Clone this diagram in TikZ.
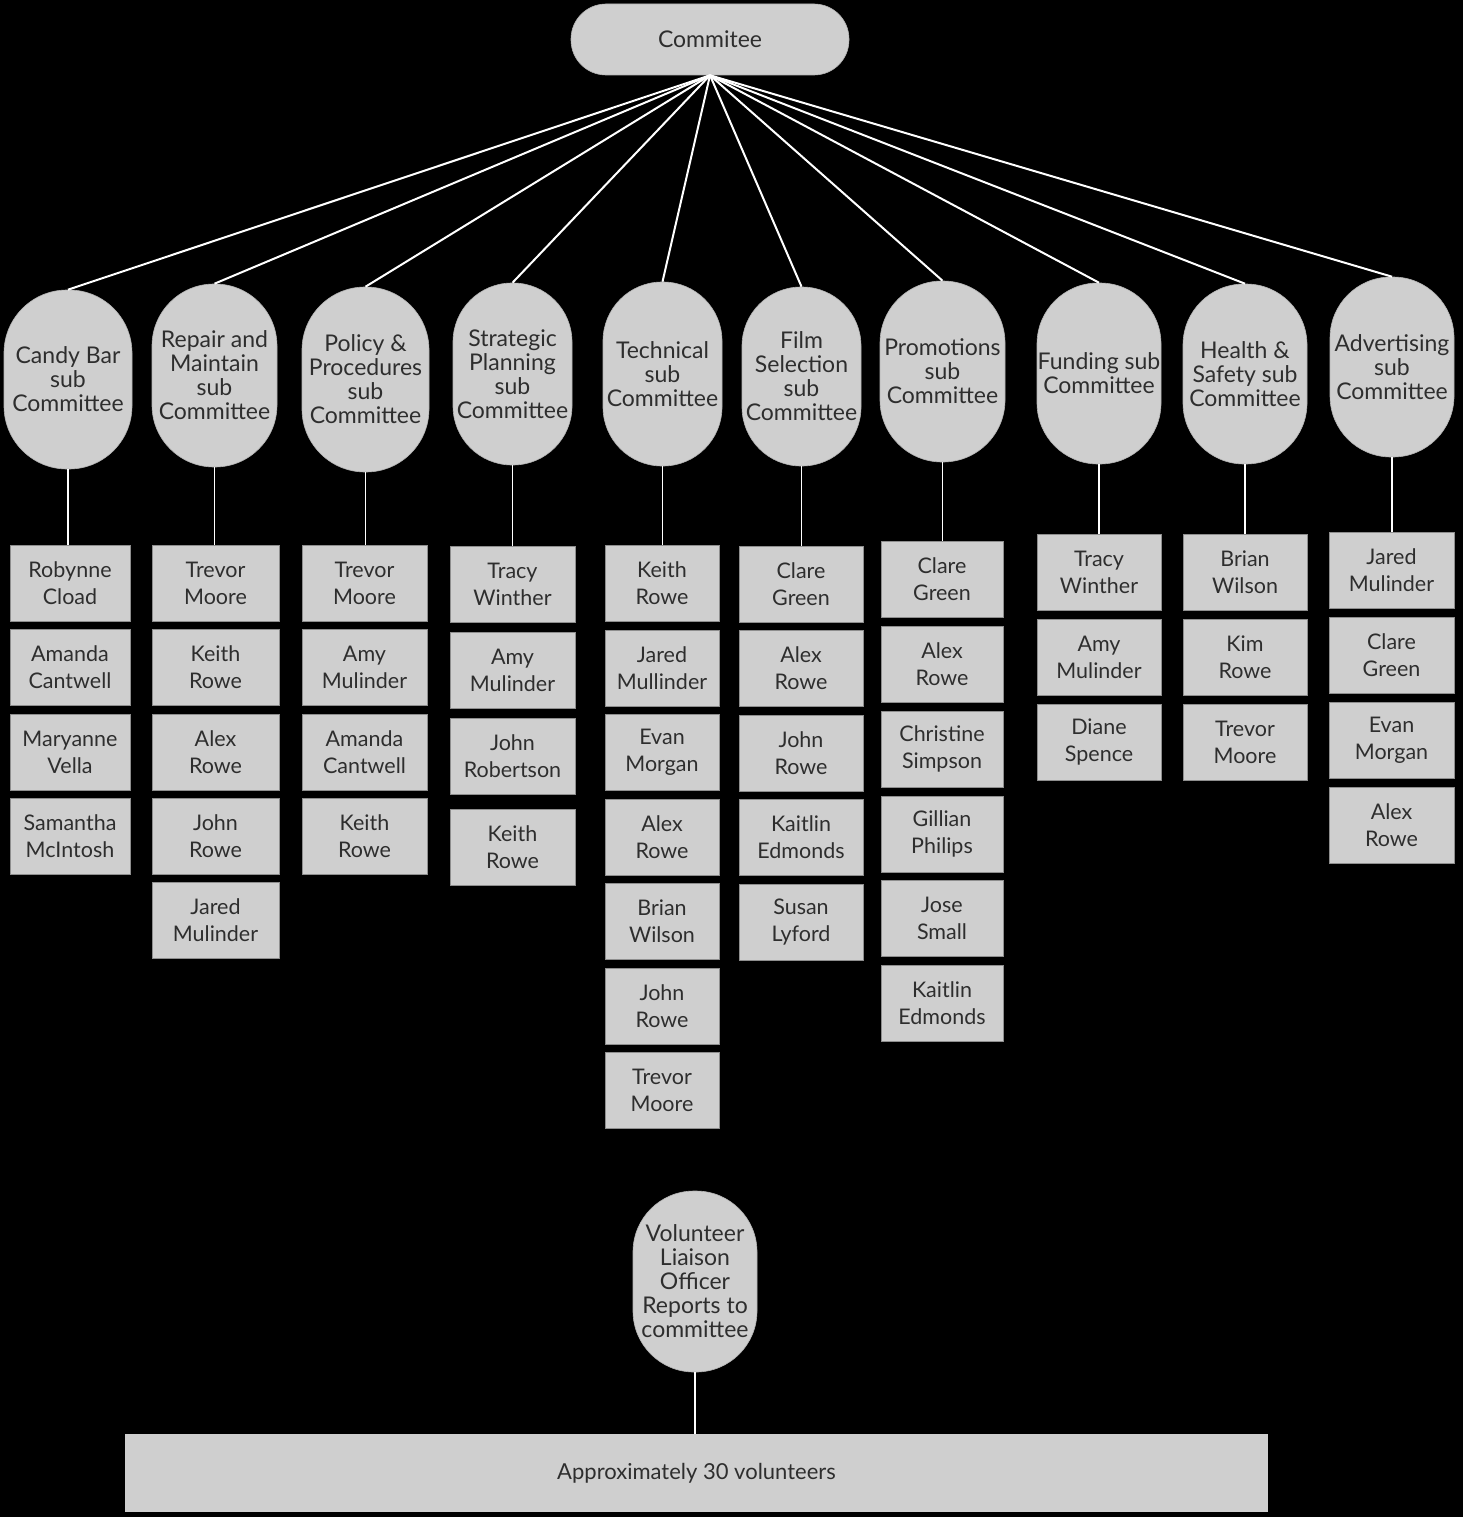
\documentclass[tikz,border=0pt]{standalone}
\usepackage{fontspec}
\setmainfont{Lato}
\definecolor{boxfill}{HTML}{CFCFCF}
\definecolor{boxline}{HTML}{8E8E8E}
\definecolor{pillline}{HTML}{B4B4B4}
\definecolor{txt}{HTML}{2E2E2E}
\begin{document}
\begin{tikzpicture}[x=1pt,y=-1pt,
  pill/.style n args={3}{fill=boxfill, draw=pillline, line width=0.6pt, text=txt,
    align=center, inner sep=0pt, minimum width=#1pt, minimum height=#2pt,
    rounded corners=#3pt, font=\fontsize{23}{24}\selectfont},
  namebox/.style={fill=boxfill, draw=boxline, line width=1pt, text=txt,
    align=center, inner sep=0pt, minimum width=#1pt, minimum height=76pt,
    font=\fontsize{21.5}{27}\selectfont},
  link/.style={draw=white, line width=2pt},
  vlink/.style={draw=white, line width=1.6pt},
]
\fill[black] (0,0) rectangle (1463,1517);
\useasboundingbox (0,0) rectangle (1463,1517);

% top
\node[pill={278}{71}{35}] (top) at (710,39.5) {Commitee};

% sub committees
\node[pill={128}{179}{63}] (s1) at (68,379.5) {Candy Bar\\sub\\Committee};
\node[pill={125}{183}{62}] (s2) at (214.5,375.5) {Repair and\\Maintain\\sub\\Committee};
\node[pill={127}{185}{63}] (s3) at (365.5,379.5) {Policy \&\\Procedures\\sub\\Committee};
\node[pill={119}{182}{59}] (s4) at (512.5,374) {Strategic\\Planning\\sub\\Committee};
\node[pill={119}{184}{59}] (s5) at (662.5,374) {Technical\\sub\\Committee};
\node[pill={119}{179}{59}] (s6) at (801.5,376.5) {Film\\Selection\\sub\\Committee};
\node[pill={125}{181}{62}] (s7) at (942.5,371.5) {Promotions\\sub\\Committee};
\node[pill={124}{181}{61}] (s8) at (1099,373.5) {Funding sub\\Committee};
\node[pill={124}{180}{61}] (s9) at (1245,374) {Health \&\\Safety sub\\Committee};
\node[pill={124}{180}{61}] (s10) at (1392,367) {Advertising\\sub\\Committee};

\foreach \i in {1,...,10} \draw[link] (top.south) -- (s\i.north);

% column 1
\node[namebox=120] (c1a) at (70,583) {Robynne\\Cload};
\node[namebox=120] (c1b) at (70,667) {Amanda\\Cantwell};
\node[namebox=120] (c1c) at (70,752) {Maryanne\\Vella};
\node[namebox=120] (c1d) at (70,836) {Samantha\\McIntosh};
% column 2
\node[namebox=127] (c2a) at (215.5,583) {Trevor\\Moore};
\node[namebox=127] (c2b) at (215.5,667) {Keith\\Rowe};
\node[namebox=127] (c2c) at (215.5,752) {Alex\\Rowe};
\node[namebox=127] (c2d) at (215.5,836) {John\\Rowe};
\node[namebox=127] (c2e) at (215.5,920) {Jared\\Mulinder};
% column 3
\node[namebox=125] (c3a) at (364.5,583) {Trevor\\Moore};
\node[namebox=125] (c3b) at (364.5,667) {Amy\\Mulinder};
\node[namebox=125] (c3c) at (364.5,752) {Amanda\\Cantwell};
\node[namebox=125] (c3d) at (364.5,836) {Keith\\Rowe};
% column 4
\node[namebox=125] (c4a) at (512.5,584) {Tracy\\Winther};
\node[namebox=125] (c4b) at (512.5,670) {Amy\\Mulinder};
\node[namebox=125] (c4c) at (512.5,756) {John\\Robertson};
\node[namebox=125] (c4d) at (512.5,847) {Keith\\Rowe};
% column 5
\node[namebox=114] (c5a) at (662,583) {Keith\\Rowe};
\node[namebox=114] (c5b) at (662,668) {Jared\\Mullinder};
\node[namebox=114] (c5c) at (662,752) {Evan\\Morgan};
\node[namebox=114] (c5d) at (662,837) {Alex\\Rowe};
\node[namebox=114] (c5e) at (662,921) {Brian\\Wilson};
\node[namebox=114] (c5f) at (662,1006) {John\\Rowe};
\node[namebox=114] (c5g) at (662,1090) {Trevor\\Moore};
% column 6
\node[namebox=124] (c6a) at (801,584) {Clare\\Green};
\node[namebox=124] (c6b) at (801,668) {Alex\\Rowe};
\node[namebox=124] (c6c) at (801,753) {John\\Rowe};
\node[namebox=124] (c6d) at (801,837) {Kaitlin\\Edmonds};
\node[namebox=124] (c6e) at (801,922) {Susan\\Lyford};
% column 7
\node[namebox=122] (c7a) at (942,579) {Clare\\Green};
\node[namebox=122] (c7b) at (942,664) {Alex\\Rowe};
\node[namebox=122] (c7c) at (942,749) {Christine\\Simpson};
\node[namebox=122] (c7d) at (942,834) {Gillian\\Philips};
\node[namebox=122] (c7e) at (942,918) {Jose\\Small};
\node[namebox=122] (c7f) at (942,1003) {Kaitlin\\Edmonds};
% column 8
\node[namebox=124] (c8a) at (1099,572) {Tracy\\Winther};
\node[namebox=124] (c8b) at (1099,657) {Amy\\Mulinder};
\node[namebox=124] (c8c) at (1099,742) {Diane\\Spence};
% column 9
\node[namebox=124] (c9a) at (1245,572) {Brian\\Wilson};
\node[namebox=124] (c9b) at (1245,657) {Kim\\Rowe};
\node[namebox=124] (c9c) at (1245,742) {Trevor\\Moore};
% column 10
\node[namebox=125] (c10a) at (1391.5,570) {Jared\\Mulinder};
\node[namebox=125] (c10b) at (1391.5,655) {Clare\\Green};
\node[namebox=125] (c10c) at (1391.5,740) {Evan\\Morgan};
\node[namebox=125] (c10d) at (1391.5,825) {Alex\\Rowe};

\foreach \i in {1,...,10} \draw[vlink] (s\i.south) -- (s\i.south |- c\i a.north);

% volunteers
\node[pill={124}{181}{61}] (vol) at (695,1281.5) {Volunteer\\Liaison\\Officer\\Reports to\\committee};
\node[fill=boxfill, text=txt, inner sep=0pt, minimum width=1143pt, minimum height=78pt,
  font=\fontsize{22}{26}\selectfont] (all) at (696.5,1473) {Approximately 30 volunteers};
\draw[vlink] (vol.south) -- (vol.south |- all.north);
\end{tikzpicture}
\end{document}
